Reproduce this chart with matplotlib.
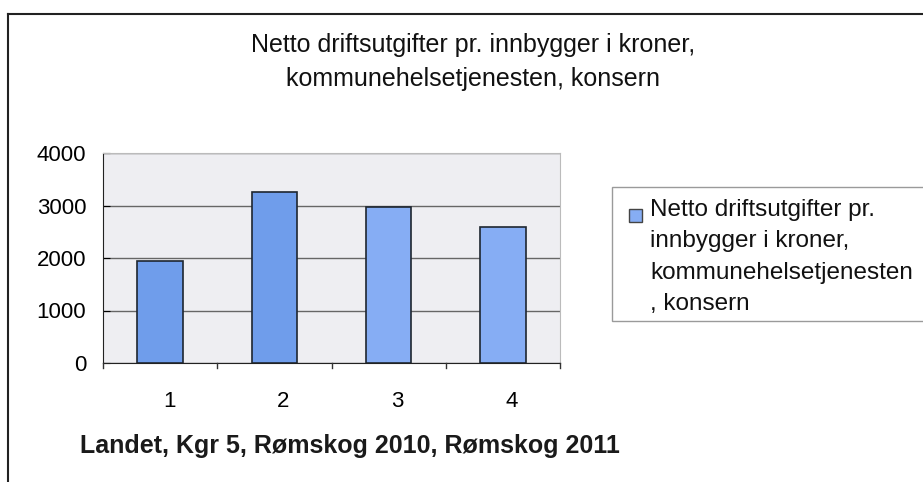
import matplotlib.pyplot as plt
import matplotlib.transforms as mtransforms
from matplotlib.lines import Line2D
from matplotlib.patches import Rectangle

plt.rcParams['font.family'] = ['Liberation Sans', 'DejaVu Sans']

categories = ['1', '2', '3', '4']
values = [1940, 3250, 2970, 2590]
yticks = [0, 1000, 2000, 3000, 4000]
title = 'Netto driftsutgifter pr. innbygger i kroner,\nkommunehelsetjenesten, konsern'
series_label = 'Netto driftsutgifter pr.\ninnbygger i kroner,\nkommunehelsetjenesten\n, konsern'
xlabel = 'Landet, Kgr 5, Rømskog 2010, Rømskog 2011'

W, H = 923, 482
fig = plt.figure(figsize=(9.23, 4.82), dpi=100)
ax = fig.add_axes([103 / W, 1 - 363 / H, 457 / W, 210 / H])
ax.set_facecolor('#eeeef2')

x = range(len(categories))
bar_colors = ['#6f9deb', '#6f9deb', '#86adf4', '#86adf4']
ax.bar(x, values, width=0.4, color=bar_colors, edgecolor='#1e2630', linewidth=1.2, zorder=3)

ax.set_xlim(-0.5, 3.5)
ax.set_ylim(0, 4000)
ax.set_yticks(yticks)
ax.set_yticklabels([str(v) for v in yticks], fontsize=16)
ax.set_xticks(list(x))
ax.set_xticklabels(categories, fontsize=16)
ax.tick_params(axis='x', length=0, pad=20)
ax.tick_params(axis='y', length=5, direction='in', pad=12)
shift = mtransforms.ScaledTranslation(9 / 100, 0, fig.dpi_scale_trans)
for lab in ax.get_xticklabels():
    lab.set_transform(lab.get_transform() + shift)
# category separators at the bottom
for b in [-0.5, 0.5, 1.5, 2.5, 3.5]:
    ax.plot([b, b], [0, -100], color='#333333', lw=1, clip_on=False, zorder=4)
ax.grid(axis='y', color='#666666', lw=1, zorder=1)
for s in ['top', 'right']:
    ax.spines[s].set_color('#bbbbbb')
for s in ['left', 'bottom']:
    ax.spines[s].set_color('#222222')

fig.text(473 / W, 1 - 62 / H, title, ha='center', va='center', fontsize=18,
         linespacing=1.55, color='#111111')
fig.text(80 / W, 1 - 446 / H, xlabel, ha='left', va='center', fontsize=18,
         fontweight='bold', color='#1a1a1a')

# legend box, handle aligned with the first text line
fig.add_artist(Rectangle((612 / W, 1 - 321 / H), 330 / W, 134 / H, transform=fig.transFigure,
                         facecolor='white', edgecolor='#9a9a9a', lw=1))
fig.add_artist(Rectangle((629 / W, 1 - 222 / H), 13 / W, 13 / H, transform=fig.transFigure,
                         facecolor='#86adf4', edgecolor='#444444', lw=1))
fig.text(650 / W, 1 - 199 / H, series_label, ha='left', va='top', fontsize=17.5,
         linespacing=1.55, color='#111111')

# outer frame of the scanned chart
fig.add_artist(Line2D([8 / W, 8 / W], [0, 1 - 14 / H], color='#222222', lw=1.5))
fig.add_artist(Line2D([8 / W, 1], [1 - 14 / H, 1 - 14 / H], color='#222222', lw=1.5))

fig.savefig('out.png', dpi=100)
